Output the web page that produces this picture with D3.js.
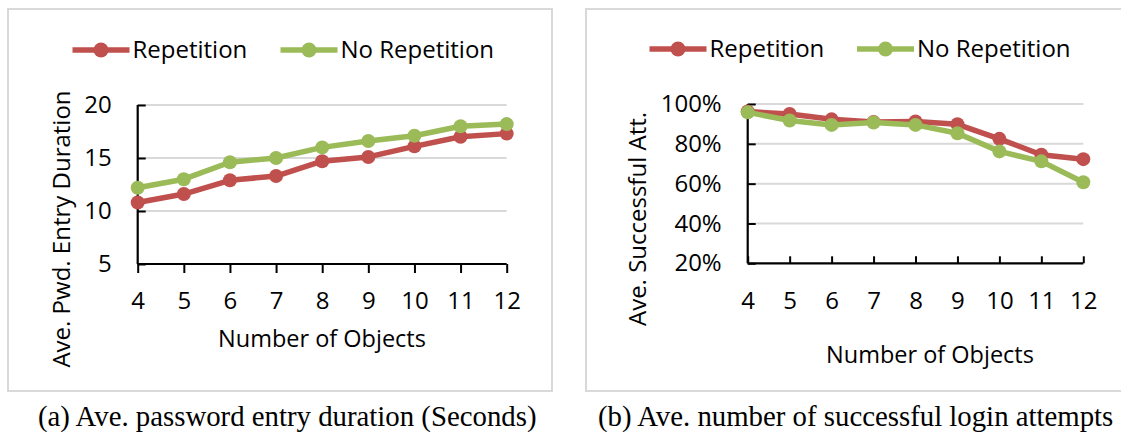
<!DOCTYPE html>
<html>
<head>
<meta charset="utf-8">
<script src="https://cdn.jsdelivr.net/npm/d3@7"></script>
<style>
  html, body { margin: 0; padding: 0; background: #fff; }
  svg { display: block; }
</style>
</head>
<body>
<svg id="chart" width="1121" height="434"></svg>
<script>
// ---- Data ----
const objects = [4, 5, 6, 7, 8, 9, 10, 11, 12];
const seriesNames = ["Repetition", "No Repetition"];
const durationRepetition   = [10.8, 11.6, 12.9, 13.3, 14.7, 15.1, 16.1, 17.0, 17.3];
const durationNoRepetition = [12.2, 13.0, 14.6, 15.0, 16.0, 16.6, 17.1, 18.0, 18.2];
const successRepetition    = [0.962, 0.950, 0.923, 0.910, 0.912, 0.898, 0.825, 0.745, 0.723];
const successNoRepetition  = [0.958, 0.917, 0.895, 0.907, 0.895, 0.853, 0.762, 0.712, 0.607];
const durationTicks = [5, 10, 15, 20];
const successTicks = [0.2, 0.4, 0.6, 0.8, 1.0];
const captions = ["(a) Ave. password entry duration (Seconds)", "(b) Ave. number of successful login attempts"];

const colors = ["#c0504d", "#9bbb59"];
const sans = "'Open Sans', 'Noto Sans', sans-serif";

const svg = d3.select("#chart");

function panel(cfg) {
  const g = svg.append("g");
  // frame
  g.append("rect")
    .attr("x", cfg.frame[0]).attr("y", cfg.frame[1])
    .attr("width", cfg.frame[2]).attr("height", cfg.frame[3])
    .attr("fill", "#fff").attr("stroke", "#d9d9d9").attr("stroke-width", 2);

  const x = d3.scaleLinear().domain([4, 12]).range(cfg.xRange);
  const y = d3.scaleLinear().domain(cfg.yDomain).range(cfg.yRange);

  // gridlines
  g.append("g").selectAll("line")
    .data(cfg.yTicks.slice(1))
    .join("line")
    .attr("x1", cfg.xRange[0]).attr("x2", cfg.xRange[1])
    .attr("y1", d => y(d)).attr("y2", d => y(d))
    .attr("stroke", "#d9d9d9").attr("stroke-width", 2);

  // y axis
  const ya = g.append("g")
    .attr("transform", `translate(${cfg.xRange[0]},0)`)
    .call(d3.axisLeft(y).tickValues(cfg.yTicks).tickSize(-8).tickPadding(26)
      .tickFormat(cfg.yFormat));
  // x axis
  const xa = g.append("g")
    .attr("transform", `translate(0,${cfg.yRange[0]})`)
    .call(d3.axisBottom(x).tickValues(objects).tickSize(cfg.xTickSize).tickPadding(cfg.xTickPadding)
      .tickFormat(d3.format("d")));
  [ya, xa].forEach(a => {
    a.select(".domain").attr("stroke", "#000").attr("stroke-width", 2.2);
    a.selectAll(".tick line").attr("stroke", "#000").attr("stroke-width", 2);
    a.selectAll("text").attr("fill", "#000").style("font-family", sans).style("font-size", "24px");
  });
  ya.select(".domain").attr("d", `M0,${cfg.yRange[0]}V${cfg.yRange[1]}`);
  xa.select(".domain").attr("d", `M${cfg.xRange[0]},0H${cfg.xRange[1]}`);

  // series
  const line = d3.line().x((d, i) => x(objects[i])).y(d => y(d));
  cfg.series.forEach((vals, k) => {
    g.append("path").datum(vals)
      .attr("d", line).attr("fill", "none")
      .attr("stroke", colors[k]).attr("stroke-width", 5.5)
      .attr("stroke-linejoin", "round");
    g.append("g").selectAll("circle").data(vals).join("circle")
      .attr("cx", (d, i) => x(objects[i])).attr("cy", d => y(d))
      .attr("r", 7).attr("fill", colors[k]);
  });

  // legend
  cfg.legend.forEach((L, k) => {
    g.append("line").attr("x1", L.x).attr("x2", L.x + 57)
      .attr("y1", cfg.legendY).attr("y2", cfg.legendY)
      .attr("stroke", colors[k]).attr("stroke-width", 5.5);
    g.append("circle").attr("cx", L.x + 28.5).attr("cy", cfg.legendY).attr("r", 7.5).attr("fill", colors[k]);
    g.append("text").attr("x", L.x + 60).attr("y", cfg.legendY)
      .attr("dy", "0.35em").text(seriesNames[k])
      .style("font-family", sans).style("font-size", "24px").attr("fill", "#000");
  });

  // axis titles
  g.append("text").attr("x", cfg.xTitle[0]).attr("y", cfg.xTitle[1])
    .attr("text-anchor", "middle").attr("dy", "0.35em").text("Number of Objects")
    .style("font-family", sans).style("font-size", "23.5px");
  g.append("text")
    .attr("transform", `translate(${cfg.yTitle[0]},${cfg.yTitle[1]}) rotate(-90)`)
    .attr("text-anchor", "middle").attr("dy", "0.35em").text(cfg.yTitleText)
    .style("font-family", sans).style("font-size", "24px");

  // caption
  g.append("text").attr("x", cfg.caption[0]).attr("y", cfg.caption[1])
    .text(cfg.captionText)
    .style("font-family", "'Liberation Serif', 'DejaVu Serif', serif").style("font-size", "28.8px");
}

panel({
  frame: [8, 9, 544, 382],
  xRange: [137.7, 506.7], yDomain: [5, 20], yRange: [264, 105],
  yTicks: durationTicks, yFormat: d3.format("d"),
  xTickSize: 9, xTickPadding: 19,
  series: [durationRepetition, durationNoRepetition],
  legendY: 50, legend: [{x: 72.5}, {x: 280.5}],
  xTitle: [322, 339], yTitle: [62, 229], yTitleText: "Ave. Pwd. Entry Duration",
  caption: [38, 426], captionText: captions[0]
});

panel({
  frame: [586, 9, 545, 382],
  xRange: [747.7, 1083.3], yDomain: [0.2, 1.0], yRange: [263.3, 104],
  yTicks: successTicks, yFormat: d3.format(".0%"),
  xTickSize: -7, xTickPadding: 29,
  series: [successRepetition, successNoRepetition],
  legendY: 49, legend: [{x: 649.5}, {x: 857}],
  xTitle: [930, 355], yTitle: [638, 219], yTitleText: "Ave. Successful Att.",
  caption: [598, 426], captionText: captions[1]
});
</script>
</body>
</html>
